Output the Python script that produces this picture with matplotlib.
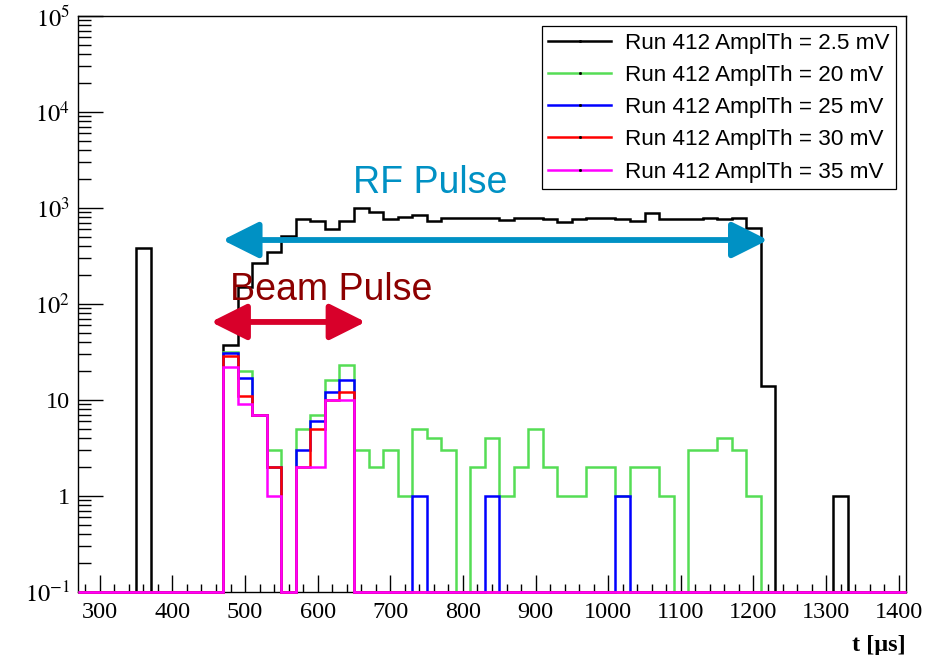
import numpy as np
import matplotlib
matplotlib.use("Agg")
import matplotlib.pyplot as plt
from matplotlib.lines import Line2D
from matplotlib.ticker import MultipleLocator

plt.rcParams['mathtext.fontset'] = 'stix'

# histogram binning: 57 bins of 20 us from 270 to 1410
edges = np.arange(270, 1411, 20)

# counts per bin
th_2p5 = [0, 0, 0, 0, 380, 0, 0, 0, 0, 0,
          37, 150, 265, 350, 510, 760, 730, 600, 730, 1000,
          900, 760, 810, 840, 730, 780, 780, 780, 780, 745,
          780, 790, 765, 720, 765, 790, 790, 765, 730, 885,
          765, 765, 765, 790, 765, 790, 615, 14, 0, 0,
          0, 0, 1, 0, 0, 0, 0]
th_20 = [0, 0, 0, 0, 0, 0, 0, 0, 0, 0,
         32, 20, 7, 3, 0, 5, 7, 16, 23, 3,
         2, 3, 1, 5, 4, 3, 0, 2, 4, 1,
         2, 5, 2, 1, 1, 2, 2, 1, 2, 2,
         1, 0, 3, 3, 4, 3, 1, 0, 0, 0,
         0, 0, 0, 0, 0, 0, 0]
th_25 = [0, 0, 0, 0, 0, 0, 0, 0, 0, 0,
         31, 17, 7, 2, 0, 3, 6, 12, 16, 0,
         0, 0, 0, 1, 0, 0, 0, 0, 1, 0,
         0, 0, 0, 0, 0, 0, 0, 1, 0, 0,
         0, 0, 0, 0, 0, 0, 0, 0, 0, 0,
         0, 0, 0, 0, 0, 0, 0]
th_30 = [0, 0, 0, 0, 0, 0, 0, 0, 0, 0,
         29, 11, 7, 2, 0, 2, 5, 10, 12, 0,
         0, 0, 0, 0, 0, 0, 0, 0, 0, 0,
         0, 0, 0, 0, 0, 0, 0, 0, 0, 0,
         0, 0, 0, 0, 0, 0, 0, 0, 0, 0,
         0, 0, 0, 0, 0, 0, 0]
th_35 = [0, 0, 0, 0, 0, 0, 0, 0, 0, 0,
         22, 9, 7, 1, 0, 2, 2, 10, 10, 0,
         0, 0, 0, 0, 0, 0, 0, 0, 0, 0,
         0, 0, 0, 0, 0, 0, 0, 0, 0, 0,
         0, 0, 0, 0, 0, 0, 0, 0, 0, 0,
         0, 0, 0, 0, 0, 0, 0]

series = [th_2p5, th_20, th_25, th_30, th_35]
labels = ['Run 412 AmplTh = 2.5 mV', 'Run 412 AmplTh = 20 mV',
          'Run 412 AmplTh = 25 mV', 'Run 412 AmplTh = 30 mV',
          'Run 412 AmplTh = 35 mV']
colors = ['black', '#55dd55', '#0000ff', '#ff0000', '#ff00ff']

ymin, ymax = 0.1, 1e5
xticks = np.arange(300, 1401, 100)
yticks = [0.1, 1, 10, 100, 1e3, 1e4, 1e5]
ytick_labels = [r'$10^{-1}$', '1', '10', r'$10^{2}$', r'$10^{3}$',
                r'$10^{4}$', r'$10^{5}$']

fig = plt.figure(figsize=(9.31, 6.55), dpi=100)
ax = fig.add_axes([78 / 931, 1 - 592 / 655, 828 / 931, 576 / 655])

# ROOT draws empty bins at the bottom of the frame
for vals, c in zip(series, colors):
    v = np.clip(np.array(vals, dtype=float), ymin, None)
    ax.stairs(v, edges, baseline=ymin, color=c, lw=1.8, zorder=3, clip_on=False)

ax.set_yscale('log')
ax.set_xlim(edges[0], edges[-1])
ax.set_ylim(ymin, ymax)
ax.set_xticks(xticks)
ax.xaxis.set_minor_locator(MultipleLocator(20))
ax.set_yticks(yticks)
ax.set_yticklabels(ytick_labels)
ax.tick_params(which='both', direction='in', top=False, right=False)
ax.tick_params(axis='x', which='major', length=12, width=1, pad=7)
ax.tick_params(axis='x', which='minor', length=6, width=1)
ax.tick_params(axis='y', which='major', length=18, width=1, pad=6)
ax.tick_params(axis='y', which='minor', length=9, width=1)
for lab in ax.get_xticklabels() + ax.get_yticklabels():
    lab.set_fontfamily('Liberation Serif')
    lab.set_fontsize(17.5)
for sp in ax.spines.values():
    sp.set_linewidth(1)

ax.text(1.0, -0.075, 't [μs]', transform=ax.transAxes, ha='right', va='top',
        fontsize=17.5, fontweight='bold', fontfamily='Liberation Serif')

# annotations
ax.annotate('', xy=(469, 464), xytext=(1220, 464),
            arrowprops=dict(arrowstyle='<|-|>,head_length=1.1,head_width=0.55',
                            mutation_scale=20, lw=4.2, color='#0091c4',
                            shrinkA=0, shrinkB=0), zorder=4)
ax.text(755, 1432, 'RF Pulse', color='#0091c4', fontsize=27,
        fontfamily='Liberation Sans', ha='center', va='baseline', zorder=4)
ax.annotate('', xy=(453, 65), xytext=(666, 65),
            arrowprops=dict(arrowstyle='<|-|>,head_length=1.1,head_width=0.55',
                            mutation_scale=20, lw=4.2, color='#d8002a',
                            shrinkA=0, shrinkB=0), zorder=4)
ax.text(618, 110, 'Beam Pulse', color='#8c0000', fontsize=27,
        fontfamily='Liberation Sans', ha='center', va='baseline', zorder=4)

handles = [Line2D([], [], color=c, lw=1.8, marker='s', ms=1, mfc='k', mec='k')
           for c in colors]
leg = ax.legend(handles, labels, loc='upper right', bbox_to_anchor=(0.988, 0.983),
                borderaxespad=0, fancybox=False, edgecolor='black', framealpha=1,
                prop={'family': 'Liberation Sans', 'size': 16.2},
                handlelength=2.8, handletextpad=0.6, labelspacing=0.5,
                borderpad=0.3, numpoints=1)
leg.get_frame().set_linewidth(0.9)

fig.savefig('out.png', dpi=100)
